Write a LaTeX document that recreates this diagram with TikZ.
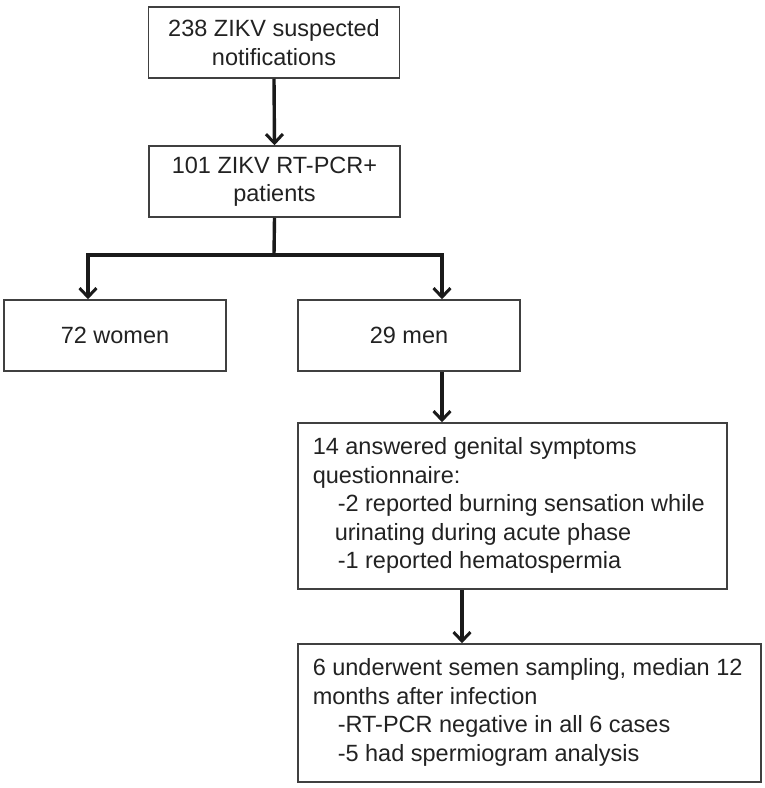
\documentclass[tikz,border=0pt]{standalone}
\usepackage{fontspec}
\setmainfont{Liberation Sans}
\usetikzlibrary{arrows.meta}
\definecolor{boxline}{HTML}{404040}
\definecolor{txt}{HTML}{222222}
\definecolor{arr}{HTML}{1A1A1A}
\begin{document}
\begin{tikzpicture}[x=1pt,y=-1pt,
  box/.style={draw=boxline, line width=1.5pt, rectangle, inner sep=0pt,
    font=\fontsize{23.5pt}{28.5pt}\selectfont, text=txt},
  ctext/.style={align=center},
  ltext/.style={align=left},
  link/.style={draw=arr, line width=3.4pt,
    -{Straight Barb[length=9pt,width=17pt,line width=3pt]}}]
\useasboundingbox (0,0) rectangle (764,788);
\node[box, ctext, minimum width=251pt, minimum height=71pt] (n1) at (274,42.5) {238 ZIKV suspected\\notifications};
\node[box, ctext, minimum width=251pt, minimum height=71pt] (n2) at (274.5,181.5) {101 ZIKV RT-PCR+\\patients};
\node[box, ctext, minimum width=222pt, minimum height=71pt] (w) at (115,335.5) {72 women};
\node[box, ctext, minimum width=222pt, minimum height=71pt] (m) at (409,335.5) {29 men};
\node[box, minimum width=429pt, minimum height=166pt] (q) at (512.5,506) {};
\node[box, draw=none, ltext, anchor=north west] (qt) at (312,437) {14 answered genital symptoms\\questionnaire:\\\hspace*{25pt}-2 reported burning sensation while\\\hspace*{22pt}urinating during acute phase\\\hspace*{25pt}-1 reported hematospermia};
\node[box, minimum width=463pt, minimum height=138pt] (s) at (529.5,713) {};
\node[box, draw=none, ltext, anchor=north west] (st) at (312,658) {6 underwent semen sampling, median 12\\months after infection\\\hspace*{25pt}-RT-PCR negative in all 6 cases\\\hspace*{25pt}-5 had spermiogram analysis};
\coordinate (split) at (274,255);
\draw[link] (n1.south) -- (n2.north);
\draw[draw=arr, line width=3.4pt] (n2.south) -- (split);
\draw[link] (split) -| (w.north -| 88,0);
\draw[link] (split) -| (m.north -| 442,0);
\draw[link] (m.south -| 442,0) -- (q.north -| 442,0);
\draw[link] (q.south -| 462,0) -- (s.north -| 462,0);
\end{tikzpicture}
\end{document}
